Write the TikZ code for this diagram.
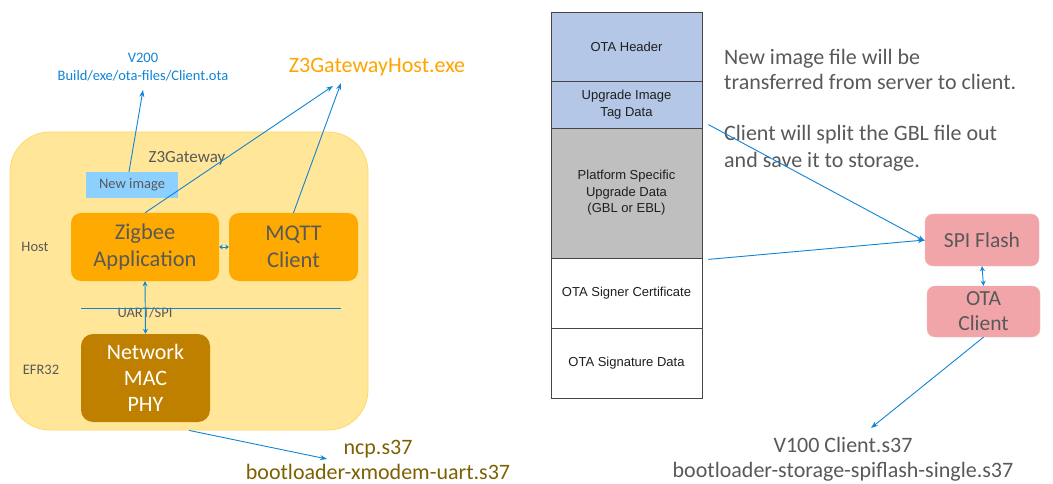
\documentclass[tikz,border=0pt]{standalone}
\usepackage{fontspec}
\setmainfont{Carlito}
\newfontfamily\arialf{Liberation Sans}
\usetikzlibrary{arrows.meta}
\definecolor{arrblue}{RGB}{16,132,214}
\definecolor{txtgray}{RGB}{89,89,89}
\definecolor{gwfill}{RGB}{255,230,153}
\definecolor{gwdraw}{RGB}{255,217,102}
\definecolor{orangebox}{RGB}{255,170,0}
\definecolor{orangetxt}{RGB}{255,165,0}
\definecolor{brownbox}{RGB}{191,128,0}
\definecolor{browntxt}{RGB}{127,96,0}
\definecolor{newimgc}{RGB}{140,208,255}
\definecolor{tblue}{RGB}{180,199,231}
\definecolor{tgray}{RGB}{191,191,191}
\definecolor{pinkbox}{RGB}{242,165,168}
\definecolor{tborder}{RGB}{70,70,70}
\definecolor{ttext}{RGB}{30,30,30}
\newcommand{\fsz}[2]{\fontsize{#1}{#2}\selectfont}
\tikzset{
  arr/.style={draw=arrblue, line width=0.9pt, -{Stealth[length=7pt,width=5pt]}},
  darr/.style={draw=arrblue, line width=0.9pt, {Stealth[length=5pt,width=5pt]}-{Stealth[length=5pt,width=5pt]}},
  lbl/.style={inner sep=0pt, text=txtgray},
  obox/.style={fill=orangebox, rounded corners=10pt, text=txtgray, align=center, inner sep=0pt, font=\fsz{22.5}{27}},
  pbox/.style={fill=pinkbox, draw=pinkbox!80!white, rounded corners=8pt, text=txtgray, align=center, inner sep=0pt, font=\fsz{21.5}{25}},
  cell/.style={draw=tborder, line width=0.8pt, minimum width=151pt, inner sep=0pt, align=center, text=ttext, font=\arialf\fsz{13}{16.5}},
}
\begin{document}
\begin{tikzpicture}[x=1pt,y=-1pt]
\useasboundingbox[fill=white] (0,0) rectangle (1053,484);
% ---------- left part ----------
\node[fill=gwfill, draw=gwdraw, line width=0.8pt, rounded corners=40pt, minimum width=358pt, minimum height=298pt, inner sep=0pt] (gw) at (189,281) {};
\node[lbl, font=\fsz{17}{19}] (gwl) at (187,158) {Z3Gateway};
\node[fill=newimgc, minimum width=92pt, minimum height=26pt, inner sep=0pt, text=txtgray, font=\fsz{14.5}{16}] (newimg) at (132,185) {New image};
\node[obox, minimum width=148pt, minimum height=68pt] (zig) at (145,247) {Zigbee\\Application};
\node[obox, minimum width=129pt, minimum height=68pt] (mqtt) at (293.5,247) {MQTT\\Client};
\node[fill=brownbox, rounded corners=12pt, minimum width=129pt, minimum height=88pt, text=white, align=center, inner sep=0pt, font=\fsz{22}{26}] (net) at (145.5,378) {Network\\MAC\\PHY};
\node[lbl, font=\fsz{14.5}{16}] (host) at (35,247) {Host};
\node[lbl, font=\fsz{14.5}{16}] (efr) at (41,370) {EFR32};
\node[lbl, font=\fsz{14.5}{16}] (uart) at (145,313) {UART/SPI};
\draw[draw=arrblue, line width=0.9pt] (81,308) -- (341,308);
\draw[darr] (zig.south) -- (net.north);
\draw[draw=arrblue, line width=1pt, {Stealth[length=3.5pt,width=5pt]}-{Stealth[length=3.5pt,width=5pt]}] (zig.east) -- (mqtt.west);
\node[inner sep=0pt, text=arrblue, align=center, font=\fsz{14.5}{18}] (v200) at (143,67) {V200\\Build/exe/ota-files/Client.ota};
\node[inner sep=0pt, text=orangetxt, font=\fsz{22}{24}] (host exe) at (377,67) {Z3GatewayHost.exe};
\coordinate (v200tip) at (143,90);
\coordinate (hosttipa) at (333,86);
\coordinate (hosttipb) at (341,83);
\draw[arr] ([xshift=-3pt]newimg.north) -- (v200tip);
\draw[arr] (zig.north) -- (hosttipa);
\draw[arr] (mqtt.north) -- (hosttipb);
\node[inner sep=0pt, text=browntxt, align=center, font=\fsz{22}{24.5}] (ncp) at (378,460) {ncp.s37\\bootloader-xmodem-uart.s37};
\coordinate (ncptip) at (327,459);
\draw[arr] (gw.south) -- (ncptip);
% ---------- right part ----------
\node[cell, fill=tblue, minimum height=69pt] (hdr) at (626.5,46.5) {OTA Header};
\node[cell, fill=tblue, minimum height=47pt] (tag) at (626.5,104.5) {Upgrade Image\\Tag Data};
\node[cell, fill=tgray, minimum height=130pt] (plat) at (626.5,193) {Platform Specific\\Upgrade Data\\(GBL or EBL)};
\node[cell, fill=white, minimum height=70pt] (cert) at (626.5,293) {OTA Signer Certificate};
\node[cell, fill=white, minimum height=70pt] (sig) at (626.5,363) {OTA Signature Data};
\node[lbl, anchor=west, align=left, font=\fsz{22}{25.5}] (note1) at (724,69.5) {New image file will be\\transferred from server to client.};
\node[lbl, anchor=west, align=left, font=\fsz{22}{26.5}] (note2) at (724,148.5) {Client will split the GBL file out\\and save it to storage.};
\node[pbox, minimum width=114pt, minimum height=52pt] (spi) at (982,240) {SPI Flash};
\node[pbox, minimum width=113pt, minimum height=51pt] (ota) at (983.5,311.5) {OTA\\Client};
\draw[arr] ([xshift=6pt,yshift=3pt]plat.north east) -- ([yshift=-1pt]spi.west);
\draw[arr] ([xshift=6pt,yshift=-1pt]plat.south east) -- (spi.west);
\draw[darr] (spi.south) -- (ota.north);
\node[lbl, align=center, font=\fsz{22}{25}] (v100) at (843,459.5) {V100 Client.s37\\bootloader-storage-spiflash-single.s37};
\coordinate (v100tip) at (871,428);
\draw[arr] (ota.south) -- (v100tip);
\end{tikzpicture}
\end{document}
